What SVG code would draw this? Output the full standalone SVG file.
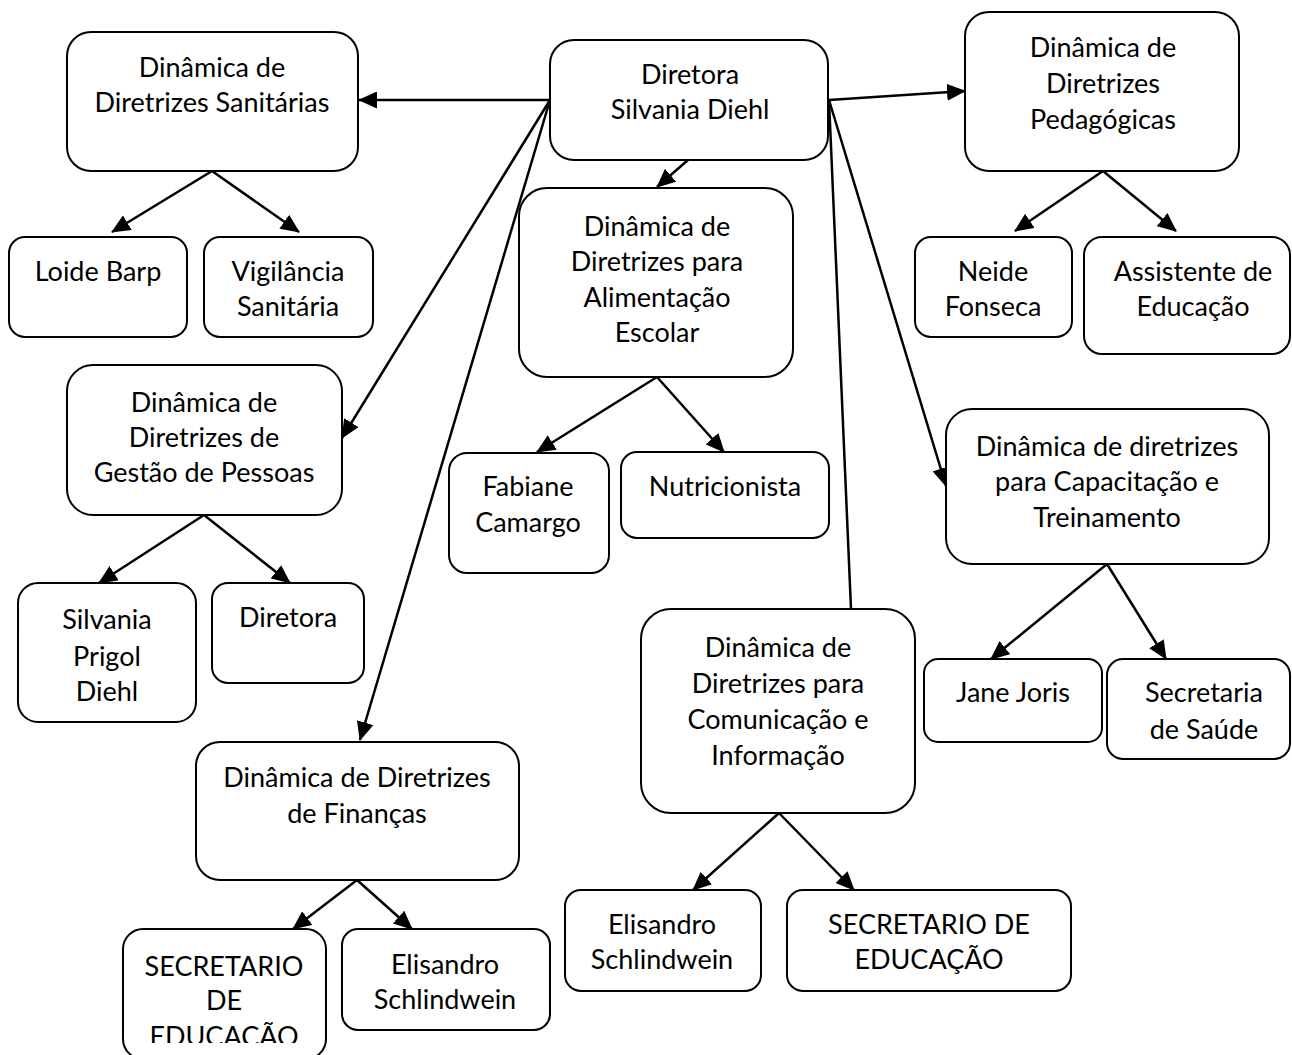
<svg xmlns="http://www.w3.org/2000/svg" width="1292" height="1055" viewBox="0 0 1292 1055">
<defs>
<style>
.b{fill:#fff;stroke:#000;stroke-width:2}
.t{font-family:Lato,"Liberation Sans",sans-serif;font-size:27px;fill:#000;text-anchor:middle}
.c{stroke:#000;stroke-width:2.5;fill:none}
</style>
<marker id="ah" markerUnits="userSpaceOnUse" markerWidth="19" markerHeight="17" refX="18" refY="8.5" orient="auto">
<path d="M0,0 L19,8.5 L0,17 Z" fill="#000"/>
</marker>
<clipPath id="clipSec"><rect x="120" y="925" width="210" height="118"/></clipPath>
</defs>
<rect width="1292" height="1055" fill="#fff"/>
<g id="connectors">
<line class="c" x1="550" y1="100" x2="359" y2="100" marker-end="url(#ah)"/>
<line class="c" x1="829" y1="100" x2="965" y2="91" marker-end="url(#ah)"/>
<line class="c" x1="688" y1="160" x2="657" y2="187" marker-end="url(#ah)"/>
<line class="c" x1="550" y1="100" x2="342" y2="438" marker-end="url(#ah)"/>
<line class="c" x1="550" y1="100" x2="360" y2="740" marker-end="url(#ah)"/>
<line class="c" x1="829" y1="100" x2="851" y2="609"/>
<line class="c" x1="829" y1="100" x2="946" y2="486" marker-end="url(#ah)"/>
<line class="c" x1="212" y1="171" x2="112" y2="232" marker-end="url(#ah)"/>
<line class="c" x1="212" y1="171" x2="299" y2="232" marker-end="url(#ah)"/>
<line class="c" x1="1103" y1="171" x2="1015" y2="231" marker-end="url(#ah)"/>
<line class="c" x1="1103" y1="171" x2="1176" y2="231" marker-end="url(#ah)"/>
<line class="c" x1="657" y1="377" x2="537" y2="452" marker-end="url(#ah)"/>
<line class="c" x1="657" y1="377" x2="724" y2="452" marker-end="url(#ah)"/>
<line class="c" x1="204" y1="515" x2="99" y2="583" marker-end="url(#ah)"/>
<line class="c" x1="204" y1="515" x2="290" y2="583" marker-end="url(#ah)"/>
<line class="c" x1="1107" y1="564" x2="991" y2="659" marker-end="url(#ah)"/>
<line class="c" x1="1107" y1="564" x2="1166" y2="659" marker-end="url(#ah)"/>
<line class="c" x1="357" y1="880" x2="293" y2="929" marker-end="url(#ah)"/>
<line class="c" x1="357" y1="880" x2="412" y2="929" marker-end="url(#ah)"/>
<line class="c" x1="779" y1="813" x2="693" y2="890" marker-end="url(#ah)"/>
<line class="c" x1="779" y1="813" x2="854" y2="890" marker-end="url(#ah)"/>
</g>
<g id="diretora">
<rect class="b" x="550" y="40" width="278" height="120" rx="24"/>
<text class="t" x="690" y="84">Diretora</text>
<text class="t" x="690" y="119">Silvania Diehl</text>
</g>
<g id="sanitarias">
<rect class="b" x="67" y="32" width="291" height="139" rx="24"/>
<text class="t" x="212" y="77">Dinâmica de</text>
<text class="t" x="212" y="112">Diretrizes Sanitárias</text>
</g>
<g id="loide">
<rect class="b" x="9" y="237" width="178" height="100" rx="16"/>
<text class="t" x="98" y="281">Loide Barp</text>
</g>
<g id="vigilancia">
<rect class="b" x="204" y="237" width="169" height="100" rx="16"/>
<text class="t" x="288" y="281">Vigilância</text>
<text class="t" x="288" y="316">Sanitária</text>
</g>
<g id="pedagogicas">
<rect class="b" x="965" y="12" width="274" height="159" rx="24"/>
<text class="t" x="1103" y="57">Dinâmica de</text>
<text class="t" x="1103" y="93">Diretrizes</text>
<text class="t" x="1103" y="129">Pedagógicas</text>
</g>
<g id="neide">
<rect class="b" x="915" y="237" width="157" height="100" rx="16"/>
<text class="t" x="993" y="281">Neide</text>
<text class="t" x="993" y="316">Fonseca</text>
</g>
<g id="assistente">
<rect class="b" x="1084" y="237" width="206" height="117" rx="18"/>
<text class="t" x="1193" y="281">Assistente de</text>
<text class="t" x="1193" y="316">Educação</text>
</g>
<g id="alimentacao">
<rect class="b" x="519" y="188" width="274" height="189" rx="28"/>
<text class="t" x="657" y="236">Dinâmica de</text>
<text class="t" x="657" y="271">Diretrizes para</text>
<text class="t" x="657" y="307">Alimentação</text>
<text class="t" x="657" y="342">Escolar</text>
</g>
<g id="fabiane">
<rect class="b" x="449" y="453" width="160" height="120" rx="18"/>
<text class="t" x="528" y="496">Fabiane</text>
<text class="t" x="528" y="532">Camargo</text>
</g>
<g id="nutricionista">
<rect class="b" x="621" y="452" width="208" height="86" rx="16"/>
<text class="t" x="725" y="496">Nutricionista</text>
</g>
<g id="gestao">
<rect class="b" x="67" y="365" width="275" height="150" rx="26"/>
<text class="t" x="204" y="412">Dinâmica de</text>
<text class="t" x="204" y="447">Diretrizes de</text>
<text class="t" x="204" y="482">Gestão de Pessoas</text>
</g>
<g id="silvania">
<rect class="b" x="18" y="583" width="178" height="139" rx="20"/>
<text class="t" x="107" y="629">Silvania</text>
<text class="t" x="107" y="666">Prigol</text>
<text class="t" x="107" y="701">Diehl</text>
</g>
<g id="diretora2">
<rect class="b" x="212" y="583" width="152" height="100" rx="16"/>
<text class="t" x="288" y="627">Diretora</text>
</g>
<g id="capacitacao">
<rect class="b" x="946" y="409" width="323" height="155" rx="26"/>
<text class="t" x="1107" y="456">Dinâmica de diretrizes</text>
<text class="t" x="1107" y="491">para Capacitação e</text>
<text class="t" x="1107" y="527">Treinamento</text>
</g>
<g id="jane">
<rect class="b" x="924" y="659" width="178" height="83" rx="14"/>
<text class="t" x="1013" y="702">Jane Joris</text>
</g>
<g id="saude">
<rect class="b" x="1107" y="659" width="183" height="100" rx="16"/>
<text class="t" x="1204" y="702">Secretaria</text>
<text class="t" x="1204" y="739">de Saúde</text>
</g>
<g id="comunicacao">
<rect class="b" x="641" y="609" width="274" height="204" rx="30"/>
<text class="t" x="778" y="657">Dinâmica de</text>
<text class="t" x="778" y="693">Diretrizes para</text>
<text class="t" x="778" y="729">Comunicação e</text>
<text class="t" x="778" y="765">Informação</text>
</g>
<g id="financas">
<rect class="b" x="196" y="742" width="323" height="138" rx="24"/>
<text class="t" x="357" y="787">Dinâmica de Diretrizes</text>
<text class="t" x="357" y="823">de Finanças</text>
</g>
<g id="secretario1">
<rect class="b" x="123" y="929" width="203" height="130" rx="20"/>
<g clip-path="url(#clipSec)">
<text class="t" x="224" y="976">SECRETARIO</text>
<text class="t" x="224" y="1010">DE</text>
<text class="t" x="224" y="1046">EDUCAÇÃO</text>
</g>
</g>
<g id="elisandro1">
<rect class="b" x="342" y="929" width="208" height="101" rx="16"/>
<text class="t" x="445" y="974">Elisandro</text>
<text class="t" x="445" y="1009">Schlindwein</text>
</g>
<g id="elisandro2">
<rect class="b" x="565" y="890" width="196" height="101" rx="16"/>
<text class="t" x="662" y="934">Elisandro</text>
<text class="t" x="662" y="969">Schlindwein</text>
</g>
<g id="secretario2">
<rect class="b" x="787" y="890" width="284" height="101" rx="16"/>
<text class="t" x="929" y="934">SECRETARIO DE</text>
<text class="t" x="929" y="969">EDUCAÇÃO</text>
</g>
</svg>
